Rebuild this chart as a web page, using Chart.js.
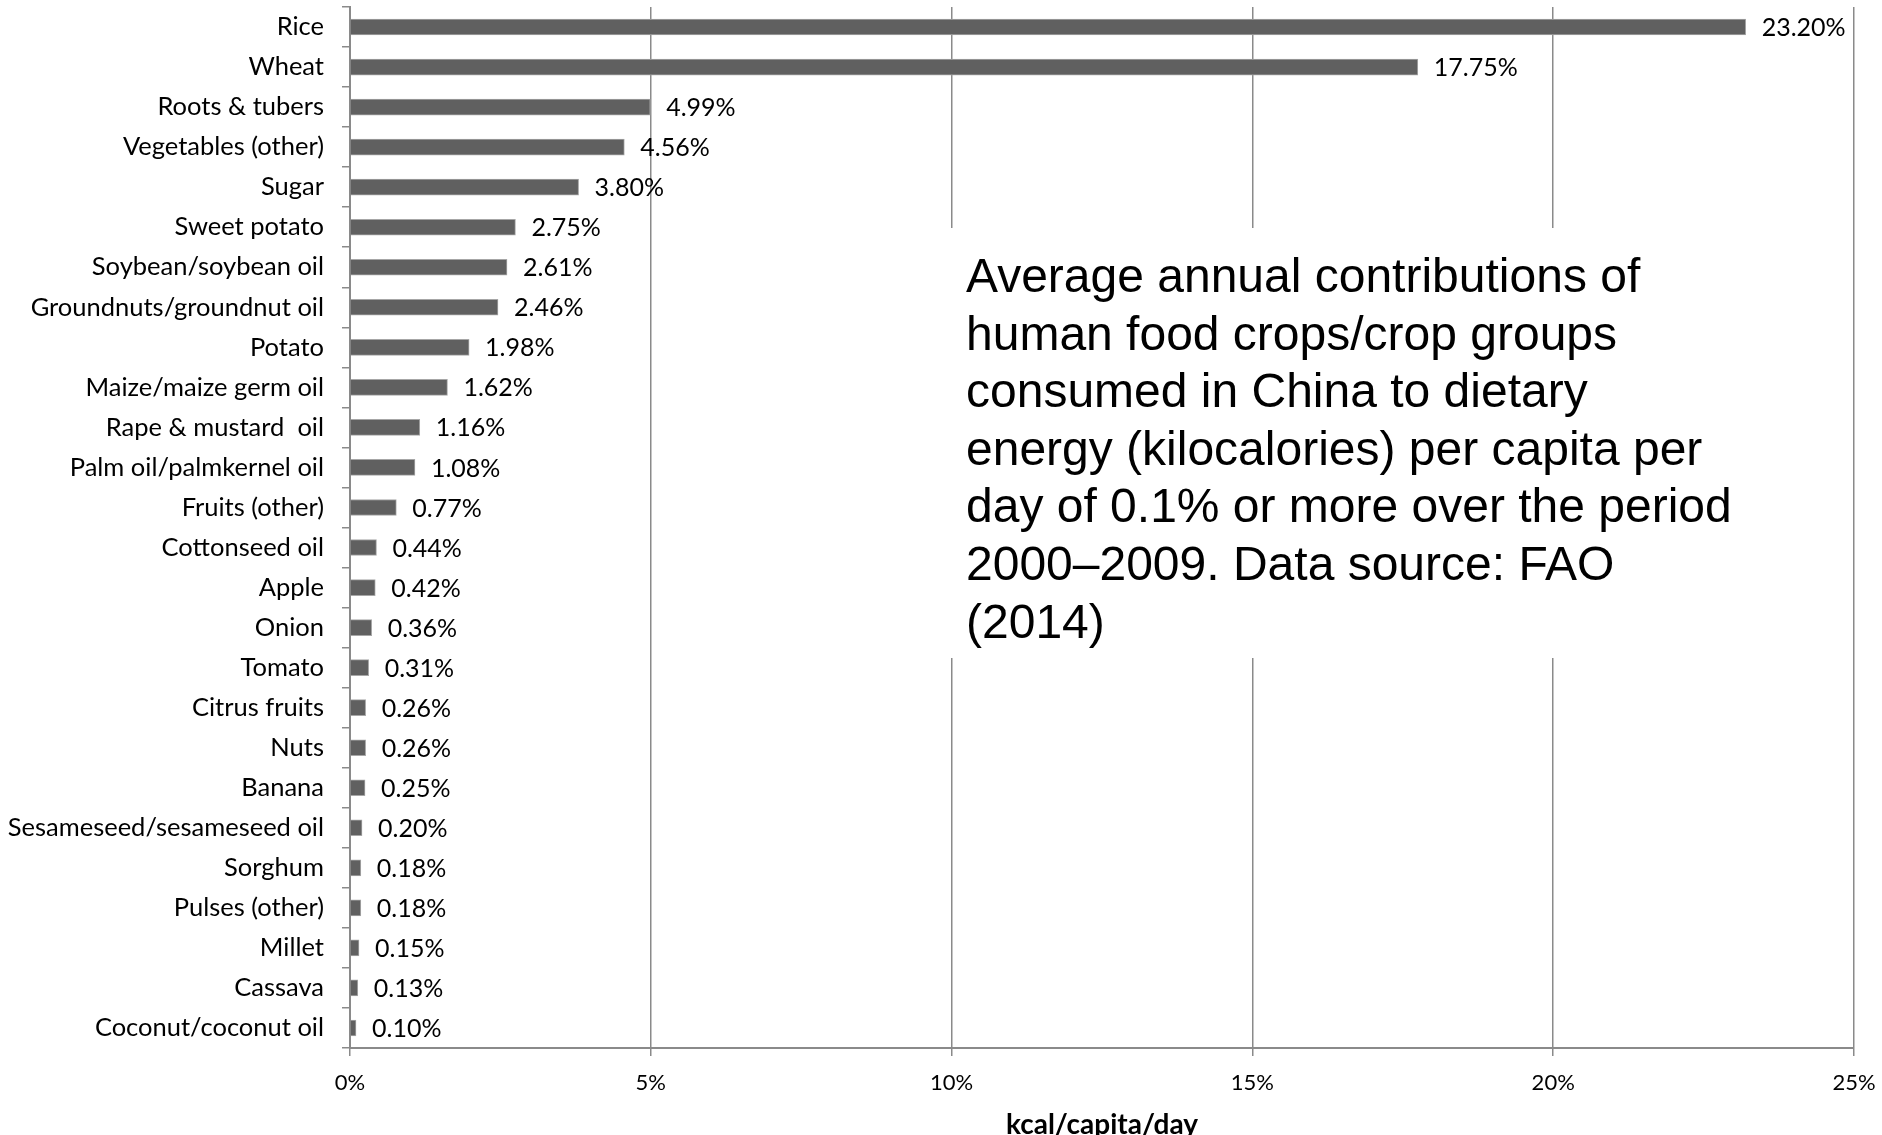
<!DOCTYPE html>
<html>
<head>
<meta charset="utf-8">
<script src="https://cdn.jsdelivr.net/npm/chart.js@4/dist/chart.umd.min.js"></script>
<style>
  html, body { margin: 0; padding: 0; background: #fff; }
  #wrap { width: 1882px; height: 1135px; }
</style>
</head>
<body>
<div id="wrap"><canvas id="bar-chart" width="1882" height="1135"></canvas></div>
<script>
var crops = [
    "Rice", "Wheat", "Roots & tubers", "Vegetables (other)", "Sugar",
    "Sweet potato", "Soybean/soybean oil", "Groundnuts/groundnut oil", "Potato",
    "Maize/maize germ oil", "Rape & mustard  oil", "Palm oil/palmkernel oil",
    "Fruits (other)", "Cottonseed oil", "Apple", "Onion", "Tomato",
    "Citrus fruits", "Nuts", "Banana", "Sesameseed/sesameseed oil", "Sorghum",
    "Pulses (other)", "Millet", "Cassava", "Coconut/coconut oil"
];
var shares = [
    23.20, 17.75, 4.99, 4.56, 3.80, 2.75, 2.61, 2.46, 1.98, 1.62, 1.16, 1.08,
    0.77, 0.44, 0.42, 0.36, 0.31, 0.26, 0.26, 0.25, 0.20, 0.18, 0.18, 0.15,
    0.13, 0.10
];
var xTicks = [0, 5, 10, 15, 20, 25];
var note = [
    "Average annual contributions of",
    "human food crops/crop groups",
    "consumed in China to dietary",
    "energy (kilocalories) per capita per",
    "day of 0.1% or more over the period",
    "2000\u20132009. Data source: FAO",
    "(2014)"
];

var gridGrey = "#8a8a8a";

// value labels at the end of each bar
var valueLabels = {
    id: "valueLabels",
    afterDatasetsDraw: function (chart) {
        var ctx = chart.ctx;
        var meta = chart.getDatasetMeta(0);
        ctx.save();
        ctx.font = "25px Lato";
        ctx.fillStyle = "#000";
        ctx.textAlign = "left";
        ctx.textBaseline = "middle";
        meta.data.forEach(function (bar, i) {
            ctx.fillText(shares[i].toFixed(2) + "%", bar.x + 16, bar.y + 1);
        });
        ctx.restore();
    }
};

// white text box over the grid
var noteBox = {
    id: "noteBox",
    afterDraw: function (chart) {
        var ctx = chart.ctx;
        ctx.save();
        ctx.fillStyle = "#fff";
        ctx.fillRect(940, 228, 830, 430);
        ctx.font = "48px 'Liberation Sans', Arial, sans-serif";
        ctx.fillStyle = "#000";
        ctx.textAlign = "left";
        ctx.textBaseline = "alphabetic";
        note.forEach(function (line, i) {
            ctx.fillText(line, 966, 292 + i * 57.6);
        });
        ctx.restore();
    }
};

var ctx = document.getElementById("bar-chart").getContext("2d");

var barChart = new Chart(ctx, {
    type: "bar",
    data: {
        labels: crops,
        datasets: [
            {
                data: shares,
                backgroundColor: "#606060",
                borderColor: "#a6a6a6",
                borderWidth: 1,
                barThickness: 16,
            },
        ],
    },
    options: {
        indexAxis: "y",
        responsive: false,
        animation: false,
        devicePixelRatio: 1,
        layout: {
            padding: { left: 0, right: 28, top: 7, bottom: 0 },
        },
        plugins: {
            legend: { display: false },
            tooltip: { enabled: false },
        },
        scales: {
            x: {
                min: 0,
                max: 25,
                afterBuildTicks: function (scale) {
                    scale.ticks = xTicks.map(function (v) { return { value: v }; });
                },
                afterFit: function (scale) {
                    scale.height = 87;
                    scale.paddingLeft = 0;
                    scale.paddingRight = 0;
                },
                ticks: {
                    callback: function (v) { return v + "%"; },
                    font: { family: "Lato", size: 22 },
                    color: "#000",
                    padding: 14,
                    maxRotation: 0,
                },
                grid: {
                    color: gridGrey,
                    lineWidth: 1.5,
                    tickLength: 8,
                },
                border: { color: gridGrey, width: 2 },
                title: {
                    display: true,
                    text: "kcal/capita/day",
                    color: "#000",
                    font: { family: "Lato", size: 28, weight: "bold", lineHeight: 0.7 },
                    padding: { top: 0, bottom: 0 },
                },
            },
            y: {
                afterFit: function (scale) {
                    scale.width = 350;
                    scale.paddingTop = 0;
                    scale.paddingBottom = 0;
                },
                ticks: {
                    font: { family: "Lato", size: 25.5 },
                    color: "#000",
                    padding: 18,
                    autoSkip: false,
                },
                grid: {
                    drawOnChartArea: false,
                    drawTicks: true,
                    tickLength: 8,
                    offset: true,
                    color: gridGrey,
                    lineWidth: 1.5,
                },
                border: { color: gridGrey, width: 2 },
            },
        },
    },
    plugins: [valueLabels, noteBox],
});
</script>
</body>
</html>
